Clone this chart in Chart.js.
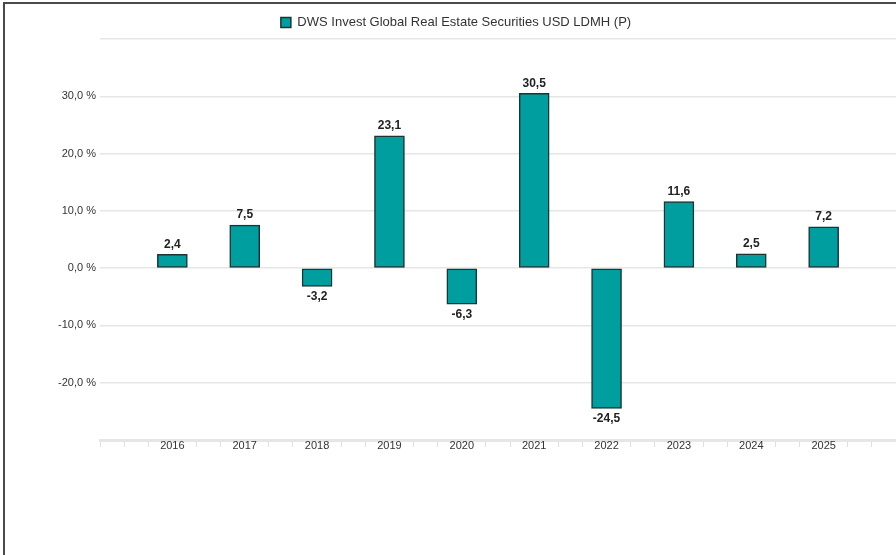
<!DOCTYPE html>
<html>
<head>
<meta charset="utf-8">
<script src="https://cdn.jsdelivr.net/npm/chart.js@4"></script>
<style>
    html, body { margin: 0; padding: 0; background: #fff; }
    #wrap { position: relative; width: 896px; height: 555px; overflow: hidden; }
    #frame {
        position: absolute; left: 3px; top: 2px; right: -10px; bottom: -10px;
        border-left: 2px solid #4a4a4a; border-top: 2px solid #4a4a4a;
        pointer-events: none;
    }
</style>
</head>
<body>
<div id="wrap">
    <canvas id="chart" width="896" height="555"></canvas>
    <div id="frame"></div>
</div>
<script>
// ==========================================
// DATA
// ==========================================
const years = [2016, 2017, 2018, 2019, 2020, 2021, 2022, 2023, 2024, 2025];
const returns = [2.4, 7.5, -3.2, 23.1, -6.3, 30.5, -24.5, 11.6, 2.5, 7.2];
const seriesName = 'DWS Invest Global Real Estate Securities USD LDMH (P)';
const yTicks = [-30, -20, -10, 0, 10, 20, 30, 40];
const yTickLabels = ['', '-20,0 %', '-10,0 %', '0,0 %', '10,0 %', '20,0 %', '30,0 %', ''];

const fmt = v => v.toFixed(1).replace('.', ',');
const isYear = v => Math.abs(v - Math.round(v)) < 1e-6;

// Data labels above / below each bar
const valueLabels = {
    id: 'valueLabels',
    afterDatasetsDraw(chart) {
        const ctx = chart.ctx;
        const meta = chart.getDatasetMeta(0);
        ctx.save();
        ctx.font = 'bold 12px "Liberation Sans", Arial, sans-serif';
        ctx.fillStyle = '#222';
        ctx.textAlign = 'center';
        meta.data.forEach((bar, i) => {
            const v = returns[i];
            if (v >= 0) {
                ctx.textBaseline = 'bottom';
                ctx.fillText(fmt(v), bar.x, bar.y - 4);
            } else {
                ctx.textBaseline = 'top';
                ctx.fillText(fmt(v), bar.x, bar.y + 4);
            }
        });
        ctx.restore();
    }
};

const ctx = document.getElementById('chart').getContext('2d');
new Chart(ctx, {
    type: 'bar',
    data: {
        datasets: [{
            label: seriesName,
            data: years.map((y, i) => ({ x: y, y: returns[i] })),
            backgroundColor: '#009e9f',
            borderColor: '#1c3434',
            borderWidth: 1.5,
            borderSkipped: false,
            barThickness: 30
        }]
    },
    options: {
        responsive: false,
        animation: false,
        layout: { padding: { top: 6, left: 16, right: 0, bottom: 91 } },
        plugins: {
            legend: {
                display: true,
                position: 'top',
                labels: {
                    boxWidth: 10,
                    boxHeight: 10,
                    padding: 10,
                    color: '#333',
                    font: { family: '"Liberation Sans", Arial, sans-serif', size: 13 }
                }
            },
            tooltip: { enabled: false }
        },
        scales: {
            x: {
                type: 'linear',
                offset: false,
                min: 2015,
                max: 2026,
                afterBuildTicks(scale) {
                    const t = [];
                    for (let k = 0; k <= 33; k++) t.push({ value: 2015 + k / 3 });
                    scale.ticks = t;
                },
                afterFit(scale) { scale.height = 24; },
                ticks: {
                    autoSkip: false,
                    maxRotation: 0,
                    padding: -8,
                    color: '#333',
                    font: { family: '"Liberation Sans", Arial, sans-serif', size: 11 },
                    callback: v => (isYear(v) && v >= 2016 && v <= 2025) ? String(Math.round(v)) : ''
                },
                grid: {
                    offset: false,
                    drawOnChartArea: false,
                    drawTicks: true,
                    tickLength: 7,
                    color: c => (c.tick && isYear(c.tick.value) && c.tick.value > 2015 && c.tick.value < 2026) ? 'rgba(0,0,0,0)' : '#e0e0e0'
                },
                border: { display: true, color: '#e6e6e6', width: 3 }
            },
            y: {
                min: -30,
                max: 40,
                afterBuildTicks(scale) {
                    scale.ticks = yTicks.map(v => ({ value: v }));
                },
                afterFit(scale) { scale.width = 84; },
                ticks: {
                    padding: 4,
                    color: '#333',
                    font: { family: '"Liberation Sans", Arial, sans-serif', size: 11 },
                    callback: (v, i) => yTickLabels[i]
                },
                grid: {
                    drawTicks: false,
                    color: '#e6e6e6',
                    lineWidth: 1.5
                },
                border: { display: false }
            }
        }
    },
    plugins: [valueLabels]
});
</script>
</body>
</html>
